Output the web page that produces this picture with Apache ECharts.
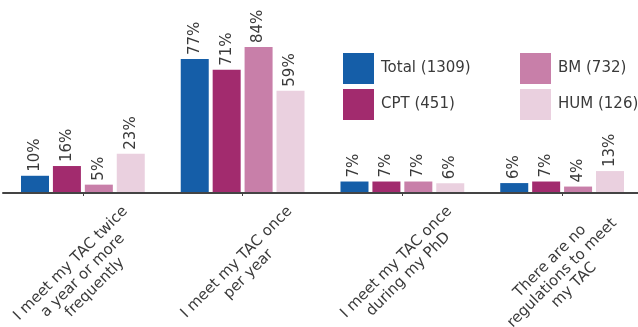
<!DOCTYPE html>
<html>
<head>
<meta charset="utf-8">
<script src="https://cdn.jsdelivr.net/npm/echarts@6/dist/echarts.min.js"></script>
<style>
  html, body { margin: 0; padding: 0; background: #fff; }
  #chart { width: 638px; height: 327px; }
</style>
</head>
<body>
<div id="chart"></div>
<script>
(function() {
  // --- data ---
  var categories = [
    'I meet my TAC twice\na year or more\nfrequently',
    'I meet my TAC once\nper year',
    'I meet my TAC once\nduring my PhD',
    'There are no\nregulations to meet\nmy TAC'
  ];
  var seriesNames = ['Total (1309)', 'CPT (451)', 'BM (732)', 'HUM (126)'];
  var total = [9.9, 77, 6.6, 5.7];
  var cpt = [15.5, 70.8, 6.6, 6.6];
  var bm = [4.8, 83.9, 6.6, 3.7];
  var hum = [22.6, 58.8, 5.6, 12.6];

  var colors = ['#155ea8', '#a22b6e', '#c87fa9', '#ead0df'];
  var ink = '#3a3a3a';
  var font = 'DejaVu Sans';
  var fontSize = 15;
  var lineH = 17;

  function barSeries(name, data, color) {
    return {
      name: name,
      type: 'bar',
      data: data,
      barWidth: 28,
      barGap: '14%',
      itemStyle: { color: color },
      label: {
        show: true,
        position: 'top',
        distance: 4,
        rotate: 90,
        align: 'left',
        verticalAlign: 'middle',
        color: ink,
        fontFamily: font,
        fontSize: fontSize,
        formatter: function(p) { return Math.round(p.value) + '%'; }
      }
    };
  }

  var legendCommon = {
    orient: 'vertical',
    top: 53,
    padding: 0,
    itemWidth: 31,
    itemHeight: 31,
    itemGap: 5,
    icon: 'rect',
    selectedMode: false,
    textStyle: { color: ink, fontFamily: font, fontSize: fontSize, padding: [0, 0, 0, 2] }
  };

  var chart = echarts.init(document.getElementById('chart'), null, { renderer: 'canvas' });
  chart.setOption({
    animation: false,
    legend: [
      Object.assign({ left: 343, data: [seriesNames[0], seriesNames[1]] }, legendCommon),
      Object.assign({ left: 520, data: [seriesNames[2], seriesNames[3]] }, legendCommon)
    ],
    grid: { left: 3, width: 639, top: 19, bottom: 134, containLabel: false, outerBoundsMode: 'none' },
    xAxis: {
      type: 'category',
      data: categories,
      z: 5,
      axisLine: { lineStyle: { color: '#444', width: 2 } },
      axisTick: { show: true, alignWithLabel: true, length: 3, lineStyle: { color: '#444' } },
      axisLabel: { show: false }
    },
    yAxis: {
      type: 'value',
      min: 0,
      max: 100,
      show: false,
      splitLine: { show: false }
    },
    series: [
      barSeries(seriesNames[0], total, colors[0]),
      barSeries(seriesNames[1], cpt, colors[1]),
      barSeries(seriesNames[2], bm, colors[2]),
      barSeries(seriesNames[3], hum, colors[3])
    ]
  });

  // tick labels like matplotlib (rotation 45, ha=center, va=top):
  // text block centred on its tick, rotated box top just under the axis
  var ctx = document.createElement('canvas').getContext('2d');
  ctx.font = fontSize + 'px "' + font + '"';
  var topGap = 10;
  var axisY = chart.convertToPixel({ yAxisIndex: 0 }, 0);
  var labels = categories.map(function(c, i) {
    var lines = c.split('\n');
    var w = 0;
    lines.forEach(function(l) { w = Math.max(w, ctx.measureText(l).width); });
    var h = lines.length * lineH;
    var d = topGap + (w + h) / (2 * Math.SQRT2);
    return {
      type: 'text',
      x: chart.convertToPixel({ xAxisIndex: 0 }, i),
      y: axisY + d,
      rotation: Math.PI / 4,
      silent: true,
      style: {
        text: c,
        align: 'center',
        verticalAlign: 'middle',
        fill: ink,
        fontFamily: font,
        fontSize: fontSize,
        lineHeight: lineH
      }
    };
  });
  chart.setOption({ graphic: labels });
})();
</script>
</body>
</html>
